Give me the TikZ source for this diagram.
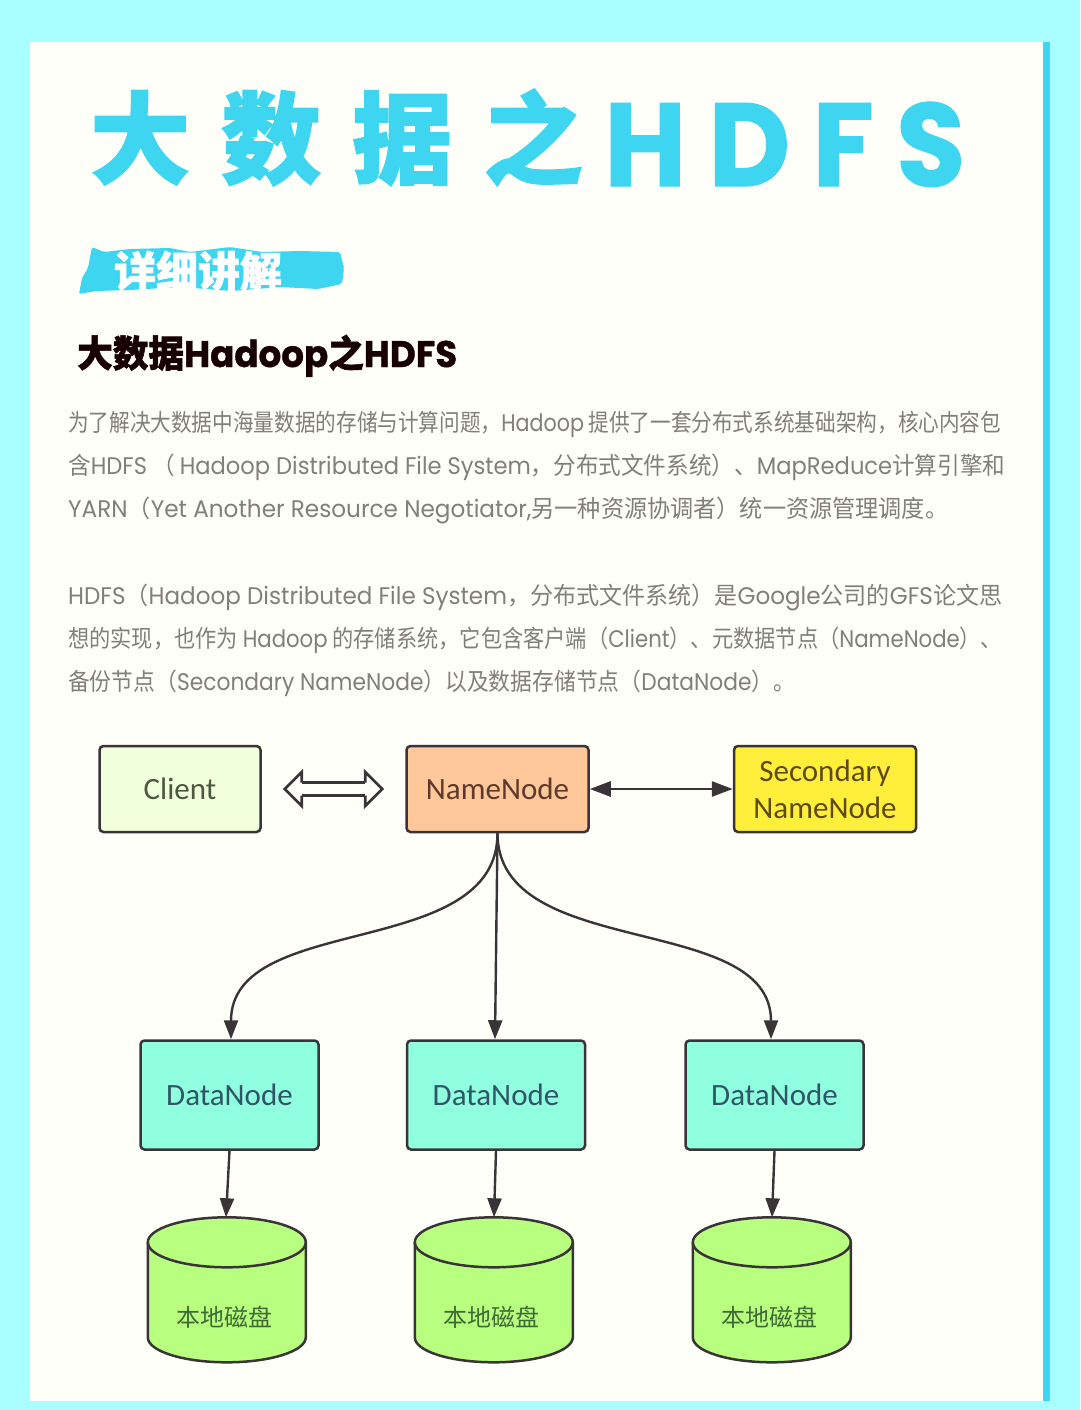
\documentclass[tikz,border=0pt]{standalone}
\usepackage{fontspec}
\usetikzlibrary{arrows.meta}
\setmainfont{Noto Sans CJK SC}
\newfontfamily\heavycjk[FakeBold=1.5]{Noto Sans CJK SC}
\newfontfamily\heavylat[FakeBold=1]{Poppins}
\newfontfamily\lat{Poppins}
\newfontfamily\boxfont{Carlito}
\newcommand{\fitline}[2]{\resizebox{#1pt}{\height}{#2}}
\newcommand{\la}[1]{{\lat #1}}
\newcommand{\drawdisk}[1]{
  \draw[diskline] (#1.north west) ++(0,25) arc[start angle=180,end angle=360,x radius=79,y radius=25] -- ++(0,95) arc[start angle=0,end angle=180,x radius=79,y radius=25] -- cycle;
  \draw[diskline,fill=none] (#1.north west) ++(0,25) arc[start angle=180,end angle=0,x radius=79,y radius=25];
}
\definecolor{skybg}{HTML}{A9FFFF}
\definecolor{paper}{HTML}{FFFFF9}
\definecolor{brand}{HTML}{3DD5F0}
\definecolor{inkline}{HTML}{3A3338}
\definecolor{bodygray}{HTML}{808078}
\definecolor{clientfill}{HTML}{F1FFDD}
\definecolor{namefill}{HTML}{FFC79A}
\definecolor{secondfill}{HTML}{FFEF3A}
\definecolor{datafill}{HTML}{90FFE0}
\definecolor{diskfill}{HTML}{B8FF80}
\definecolor{clienttext}{HTML}{4A5A40}
\definecolor{nametext}{HTML}{5E3A2C}
\definecolor{secondtext}{HTML}{5E4A14}
\definecolor{datatext}{HTML}{2F5566}
\definecolor{disktext}{HTML}{3F6A36}
\pgfdeclarearrow{
  name=hollowhead,
  setup code={\pgfarrowssettipend{18pt}\pgfarrowssetbackend{-1pt}\pgfarrowssetlineend{0pt}\pgfarrowssetvisualtipend{18pt}\pgfarrowssavethe{\pgfarrowlength}},
  drawing code={
    \pgfsetlinewidth{2.6pt}
    \pgfsetmiterjoin
    \pgfsetfillcolor{paper}
    \pgfpathmoveto{\pgfpoint{0pt}{6.5pt}}
    \pgfpathlineto{\pgfpoint{0pt}{17pt}}
    \pgfpathlineto{\pgfpoint{17pt}{0pt}}
    \pgfpathlineto{\pgfpoint{0pt}{-17pt}}
    \pgfpathlineto{\pgfpoint{0pt}{-6.5pt}}
    \pgfusepathqfillstroke
  },
  defaults={}
}
\tikzset{
  basebox/.style={draw=inkline,line width=2.5pt,rounded corners=4pt,inner sep=0pt,font=\boxfont\fontsize{31}{37}\selectfont,align=center},
  clientbox/.style={basebox,fill=#1,minimum width=161pt,minimum height=86pt},
  namebox/.style={basebox,fill=#1,minimum width=182pt,minimum height=86pt},
  databox/.style={basebox,fill=#1,minimum width=178pt,minimum height=109pt},
  diskbox/.style={minimum width=158pt,minimum height=145pt,inner sep=0pt},
  diskline/.style={draw=inkline,line width=2.5pt,fill=diskfill},
  linkline/.style={draw=inkline,line width=2.4pt,-{Stealth[length=19pt,width=14pt,inset=0pt]}},
  bothline/.style={draw=inkline,line width=2.8pt,{Stealth[length=21pt,width=15pt,inset=0pt]}-{Stealth[length=21pt,width=15pt,inset=0pt]}},
  hollowlink/.style={draw=inkline,line width=2.6pt,double=paper,double distance=10.4pt,hollowhead-hollowhead,shorten <=22pt,shorten >=22pt},
  bodyline/.style={anchor=base west,inner sep=0pt,text=bodygray,font=\fontsize{24}{28}\selectfont},
  disklabel/.style={inner sep=0pt,text=disktext,font=\fontsize{24}{28}\selectfont}
}
\begin{document}
\begin{tikzpicture}[x=1pt,y=-1pt]
  \useasboundingbox (0,0) rectangle (1080,1410);
  % page
  \fill[skybg] (0,0) rectangle (1080,1410);
  \fill[paper] (30,42) rectangle (1043,1401);
  \fill[brand] (1043,42) rectangle (1050,1401);
  % heading
  \node (titlea) [anchor=base west,inner sep=0pt,text=brand,font=\heavycjk\bfseries\fontsize{100}{110}\selectfont] at (90,176) {\addfontfeature{LetterSpace=31}大数据之};
  \node (titleb) [anchor=base west,inner sep=0pt,text=brand,font=\heavylat\bfseries\fontsize{118}{130}\selectfont] at (604,186) {\resizebox{361pt}{\height}{\addfontfeature{LetterSpace=20}HDFS}};
  \fill[brand,rounded corners=2pt] (79,294) -- (82,278) -- (88,268) -- (92,247) -- (104,252) -- (130,249) -- (170,248) -- (190,252) -- (230,247) -- (262,252) -- (300,251) -- (340,252) -- (344,268) -- (342,284) -- (318,289) -- (280,287) -- (232,291) -- (180,287) -- (130,290) -- (96,291) -- cycle;
  \node (banner) [inner sep=0pt,text=white,font=\heavycjk\bfseries\fontsize{42}{46}\selectfont] at (198,271) {详细讲解};
  \node (subtitle) [anchor=base west,inner sep=0pt,text=black!90!red,font=\heavycjk\bfseries\fontsize{37}{42}\selectfont] at (77,367) {\resizebox{380pt}{\height}{大数据{\heavylat\bfseries Hadoop}之{\heavylat\bfseries HDFS}}};
  % text lines
  \node (linea) [bodyline] at (68,431) {\fitline{933}{为了解决大数据中海量数据的存储与计算问题，\la{Hadoop} 提供了一套分布式系统基础架构，核心内容包}};
  \node (lineb) [bodyline] at (68,474) {\fitline{937}{含\la{HDFS} （ \la{Hadoop Distributed File System}，分布式文件系统）、\la{MapReduce}计算引擎和}};
  \node (linec) [bodyline] at (68,517) {\fitline{880}{\la{YARN}（\la{Yet Another Resource Negotiator,}另一种资源协调者）统一资源管理调度。}};
  \node (lined) [bodyline] at (68,604) {\fitline{934}{\la{HDFS}（\la{Hadoop Distributed File System}，分布式文件系统）是\la{Google}公司的\la{GFS}论文思}};
  \node (linee) [bodyline] at (68,647) {\fitline{934}{想的实现，也作为 \la{Hadoop} 的存储系统，它包含客户端（\la{Client}）、元数据节点（\la{NameNode}）、}};
  \node (linef) [bodyline] at (68,690) {\fitline{727}{备份节点（\la{Secondary NameNode}）以及数据存储节点（\la{DataNode}）。}};
  % diagram
  \node (client) [clientbox=clientfill,text=clienttext] at (180,789) {Client};
  \node (namenode) [namebox=namefill,text=nametext] at (497.5,789) {NameNode};
  \node (secondary) [namebox=secondfill,text=secondtext] at (825,789) {Secondary\\NameNode};
  \node (dataa) [databox=datafill,text=datatext] at (229.5,1095) {DataNode};
  \node (datab) [databox=datafill,text=datatext] at (496,1095) {DataNode};
  \node (datac) [databox=datafill,text=datatext] at (774.5,1095) {DataNode};
  \node (diska) [diskbox] at (227,1290) {};
  \node (diskb) [diskbox] at (494,1290) {};
  \node (diskc) [diskbox] at (772,1290) {};
  \drawdisk{diska}
  \drawdisk{diskb}
  \drawdisk{diskc}
  \node (labela) [disklabel] at (224,1317) {本地磁盘};
  \node (labelb) [disklabel] at (491,1317) {本地磁盘};
  \node (labelc) [disklabel] at (769,1317) {本地磁盘};
  \begin{scope}
    \draw[hollowlink] (client.east) to (namenode.west);
    \draw[bothline] (namenode.east) to (secondary.west);
    \draw[linkline] (namenode.south) .. controls +(0,128) and +(0,-128) .. ([xshift=1.5pt]dataa.north);
    \draw[linkline] (namenode.south) to ([xshift=-1pt]datab.north);
    \draw[linkline] (namenode.south) .. controls +(0,128) and +(0,-128) .. ([xshift=-3.5pt]datac.north);
    \draw[linkline] (dataa.south) to ([xshift=-1pt]diska.north);
    \draw[linkline] (datab.south) to (diskb.north);
    \draw[linkline] (datac.south) to (diskc.north);
  \end{scope}
\end{tikzpicture}
\end{document}
